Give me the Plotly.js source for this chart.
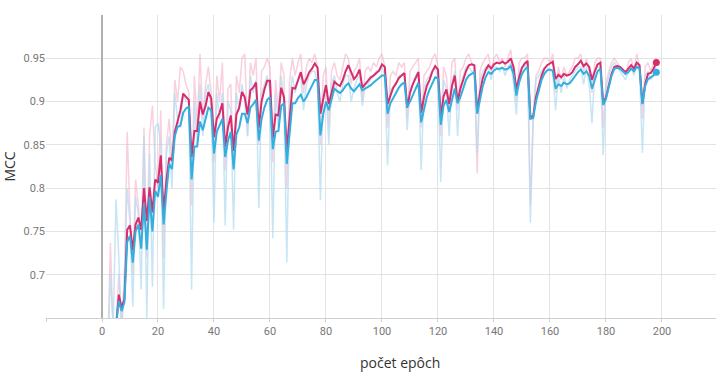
<!DOCTYPE html>
<html>
<head>
<meta charset="utf-8">
<script src="https://cdn.plot.ly/plotly-3.0.1.min.js"></script>
<style>html,body{margin:0;padding:0;background:#fff;}#chart{width:725px;height:377px;}</style>
</head>
<body>
<div id="chart"></div>
<script>
// Smoothed series start at epoch 5, raw series at epoch 2 (one value per epoch)
const smoothStart = 5;
const rawStart = 2;

const pinkSmooth = [
0.640,0.677,0.662,0.672,0.752,0.757,0.728,0.758,0.766,0.752,
0.800,0.762,0.801,0.772,0.810,0.806,0.838,0.772,0.808,0.835,
0.832,0.865,0.877,0.890,0.909,0.905,0.902,0.836,0.866,0.866,
0.900,0.885,0.895,0.911,0.904,0.859,0.880,0.887,0.898,0.848,
0.870,0.884,0.843,0.885,0.893,0.911,0.905,0.885,0.913,0.916,
0.922,0.870,0.900,0.914,0.924,0.924,0.858,0.885,0.884,0.916,
0.905,0.844,0.885,0.916,0.915,0.926,0.934,0.920,0.926,0.934,
0.938,0.944,0.939,0.886,0.905,0.919,0.897,0.912,0.923,0.920,
0.918,0.925,0.935,0.942,0.933,0.926,0.930,0.937,0.916,0.920,
0.925,0.928,0.930,0.933,0.936,0.943,0.940,0.897,0.908,0.916,
0.921,0.927,0.930,0.933,0.893,0.910,0.920,0.928,0.934,0.887,
0.905,0.918,0.925,0.935,0.941,0.937,0.882,0.906,0.914,0.897,
0.918,0.930,0.900,0.915,0.925,0.935,0.942,0.943,0.942,0.888,
0.910,0.927,0.936,0.942,0.938,0.943,0.945,0.944,0.946,0.944,
0.946,0.950,0.940,0.914,0.928,0.939,0.944,0.947,0.882,0.883,
0.905,0.918,0.930,0.938,0.942,0.944,0.946,0.926,0.931,0.928,
0.932,0.930,0.931,0.934,0.940,0.943,0.947,0.941,0.944,0.940,
0.925,0.935,0.943,0.945,0.898,0.905,0.920,0.932,0.940,0.941,
0.940,0.937,0.934,0.938,0.942,0.938,0.945,0.942,0.898,0.920,
0.932,0.933,0.938,0.945];

const blueSmooth = [
0.640,0.670,0.658,0.668,0.738,0.745,0.714,0.750,0.758,0.730,
0.783,0.729,0.790,0.750,0.797,0.790,0.815,0.758,0.795,0.828,
0.822,0.860,0.871,0.872,0.887,0.892,0.894,0.810,0.848,0.848,
0.877,0.867,0.880,0.893,0.890,0.840,0.865,0.872,0.880,0.836,
0.855,0.865,0.822,0.862,0.870,0.886,0.886,0.875,0.893,0.897,
0.902,0.855,0.880,0.893,0.902,0.905,0.845,0.865,0.866,0.895,
0.898,0.828,0.862,0.898,0.898,0.904,0.908,0.900,0.905,0.912,
0.920,0.925,0.925,0.861,0.885,0.900,0.890,0.902,0.915,0.912,
0.910,0.913,0.918,0.921,0.915,0.912,0.916,0.920,0.913,0.915,
0.916,0.919,0.922,0.925,0.928,0.930,0.930,0.886,0.898,0.905,
0.910,0.916,0.920,0.922,0.894,0.900,0.908,0.916,0.922,0.876,
0.892,0.905,0.914,0.922,0.928,0.927,0.873,0.895,0.902,0.888,
0.903,0.915,0.898,0.905,0.915,0.925,0.930,0.932,0.934,0.886,
0.903,0.918,0.928,0.934,0.932,0.936,0.938,0.938,0.939,0.937,
0.938,0.941,0.932,0.907,0.922,0.932,0.937,0.940,0.880,0.881,
0.900,0.913,0.925,0.932,0.936,0.937,0.936,0.915,0.920,0.918,
0.922,0.920,0.921,0.925,0.930,0.934,0.937,0.932,0.935,0.930,
0.915,0.925,0.935,0.938,0.896,0.903,0.918,0.930,0.938,0.939,
0.938,0.935,0.932,0.934,0.938,0.935,0.940,0.938,0.897,0.918,
0.926,0.928,0.930,0.934];

const pinkRaw = [
0.600,0.737,0.630,0.640,0.700,0.640,0.690,0.865,0.770,0.700,
0.810,0.780,0.730,0.870,0.720,0.860,0.895,0.830,0.800,0.890,
0.720,0.850,0.880,0.830,0.925,0.900,0.940,0.935,0.920,0.910,
0.780,0.930,0.870,0.955,0.880,0.920,0.940,0.910,0.830,0.930,
0.900,0.945,0.820,0.915,0.920,0.820,0.930,0.910,0.950,0.955,
0.860,0.945,0.930,0.950,0.850,0.935,0.940,0.950,0.940,0.830,
0.925,0.890,0.945,0.930,0.800,0.925,0.950,0.930,0.945,0.955,
0.910,0.940,0.950,0.945,0.955,0.940,0.850,0.930,0.940,0.870,
0.935,0.945,0.930,0.925,0.940,0.955,0.950,0.920,0.935,0.940,
0.950,0.900,0.935,0.940,0.935,0.945,0.940,0.950,0.955,0.940,
0.870,0.930,0.935,0.930,0.945,0.940,0.945,0.880,0.935,0.940,
0.945,0.950,0.870,0.930,0.935,0.940,0.950,0.955,0.940,0.860,
0.940,0.930,0.890,0.945,0.950,0.890,0.935,0.940,0.950,0.955,
0.945,0.940,0.817,0.935,0.945,0.950,0.955,0.935,0.950,0.955,
0.945,0.950,0.940,0.950,0.960,0.930,0.900,0.945,0.950,0.950,
0.955,0.780,0.880,0.930,0.935,0.945,0.950,0.950,0.945,0.955,
0.910,0.940,0.925,0.940,0.930,0.935,0.940,0.950,0.950,0.955,
0.935,0.950,0.935,0.910,0.945,0.950,0.950,0.870,0.920,0.935,
0.945,0.950,0.945,0.940,0.935,0.930,0.945,0.950,0.935,0.955,
0.940,0.880,0.940,0.945,0.935,0.945,0.950];

const blueRaw = [
0.600,0.700,0.640,0.787,0.720,0.630,0.700,0.800,0.760,0.663,
0.790,0.770,0.683,0.860,0.650,0.840,0.686,0.870,0.875,0.850,
0.660,0.840,0.860,0.800,0.910,0.880,0.870,0.910,0.900,0.900,
0.683,0.900,0.850,0.920,0.860,0.910,0.920,0.890,0.760,0.910,
0.880,0.910,0.757,0.900,0.890,0.752,0.910,0.890,0.920,0.900,
0.860,0.930,0.910,0.925,0.777,0.910,0.920,0.930,0.910,0.742,
0.910,0.870,0.930,0.900,0.714,0.900,0.930,0.910,0.925,0.930,
0.890,0.920,0.930,0.935,0.935,0.920,0.786,0.910,0.920,0.850,
0.920,0.930,0.910,0.900,0.920,0.930,0.930,0.900,0.915,0.925,
0.930,0.895,0.920,0.920,0.925,0.930,0.935,0.935,0.940,0.930,
0.826,0.915,0.915,0.920,0.930,0.930,0.930,0.867,0.915,0.920,
0.930,0.935,0.821,0.915,0.925,0.930,0.935,0.940,0.925,0.807,
0.925,0.915,0.860,0.920,0.935,0.860,0.915,0.930,0.940,0.940,
0.935,0.935,0.840,0.925,0.935,0.940,0.940,0.925,0.940,0.940,
0.935,0.940,0.930,0.940,0.945,0.920,0.885,0.935,0.940,0.940,
0.945,0.760,0.880,0.925,0.930,0.935,0.940,0.940,0.935,0.935,
0.890,0.930,0.910,0.930,0.915,0.925,0.930,0.935,0.940,0.940,
0.920,0.940,0.920,0.875,0.935,0.940,0.940,0.838,0.915,0.930,
0.940,0.945,0.940,0.935,0.930,0.925,0.935,0.940,0.930,0.945,
0.935,0.841,0.930,0.935,0.925,0.935,0.940];

const xTickVals = [-20,0,20,40,60,80,100,120,140,160,180,200,220];
const xTickText = ['','0','20','40','60','80','100','120','140','160','180','200',''];
const yTickVals = [0.65,0.7,0.75,0.8,0.85,0.9,0.95,1.0];
const yTickText = ['','0.7','0.75','0.8','0.85','0.9','0.95',''];
const xTitle = 'počet epôch';
const yTitle = 'MCC';

const PINK = 'rgb(216,44,108)';
const BLUE = 'rgb(52,174,222)';

function epochs(start, n){ const a=[]; for(let i=0;i<n;i++) a.push(start+i); return a; }
const xs = epochs(smoothStart, pinkSmooth.length);
const xr = epochs(rawStart, pinkRaw.length);
const lastX = xs[xs.length-1];

const traces = [
  {x: xr, y: pinkRaw, mode:'lines', line:{color:'rgba(244,170,195,0.55)', width:1.5}, hoverinfo:'skip'},
  {x: xr, y: blueRaw, mode:'lines', line:{color:'rgba(180,220,240,0.75)', width:1.5}, hoverinfo:'skip'},
  {x: xs, y: pinkSmooth, mode:'lines', line:{color:PINK, width:2}},
  {x: xs, y: blueSmooth, mode:'lines', line:{color:BLUE, width:2}},
  {x: [lastX], y: [pinkSmooth[pinkSmooth.length-1]], mode:'markers', marker:{color:PINK, size:7}},
  {x: [lastX], y: [blueSmooth[blueSmooth.length-1]], mode:'markers', marker:{color:BLUE, size:7}}
];

const layout = {
  width:725, height:377,
  margin:{l:46, r:9, t:15, b:59},
  paper_bgcolor:'#fff', plot_bgcolor:'#fff',
  showlegend:false,
  font:{family:'Roboto, "Liberation Sans", sans-serif', color:'#777', size:11},
  xaxis:{
    range:[-20,219.3], tickvals:xTickVals, ticktext:xTickText,
    showgrid:true, gridcolor:'#e3e3e3', gridwidth:1,
    zeroline:true, zerolinecolor:'#b0b0b0', zerolinewidth:1.5,
    showline:true, linecolor:'#cfcfcf', linewidth:1,
    ticks:'outside', ticklen:3, tickcolor:'#cfcfcf',
    tickfont:{size:11, color:'#777'},
    title:{text:''}
  },
  yaxis:{
    range:[0.65,1.0], tickvals:yTickVals, ticktext:yTickText,
    showgrid:true, gridcolor:'#e3e3e3', gridwidth:1,
    zeroline:false, showline:false,
    ticks:'', tickfont:{size:11, color:'#777'},
    title:{text:yTitle, font:{family:'"Open Sans", "Noto Sans", sans-serif', size:14, color:'#333'}, standoff:10}
  },
  annotations:[{
    text:xTitle, xref:'paper', yref:'paper', x:0.528, y:-0.148,
    xanchor:'center', yanchor:'middle', showarrow:false,
    font:{family:'"Open Sans", "Noto Sans", sans-serif', size:14, color:'#333'}
  }]
};

Plotly.newPlot('chart', traces, layout, {displayModeBar:false, staticPlot:true});
</script>
</body>
</html>
